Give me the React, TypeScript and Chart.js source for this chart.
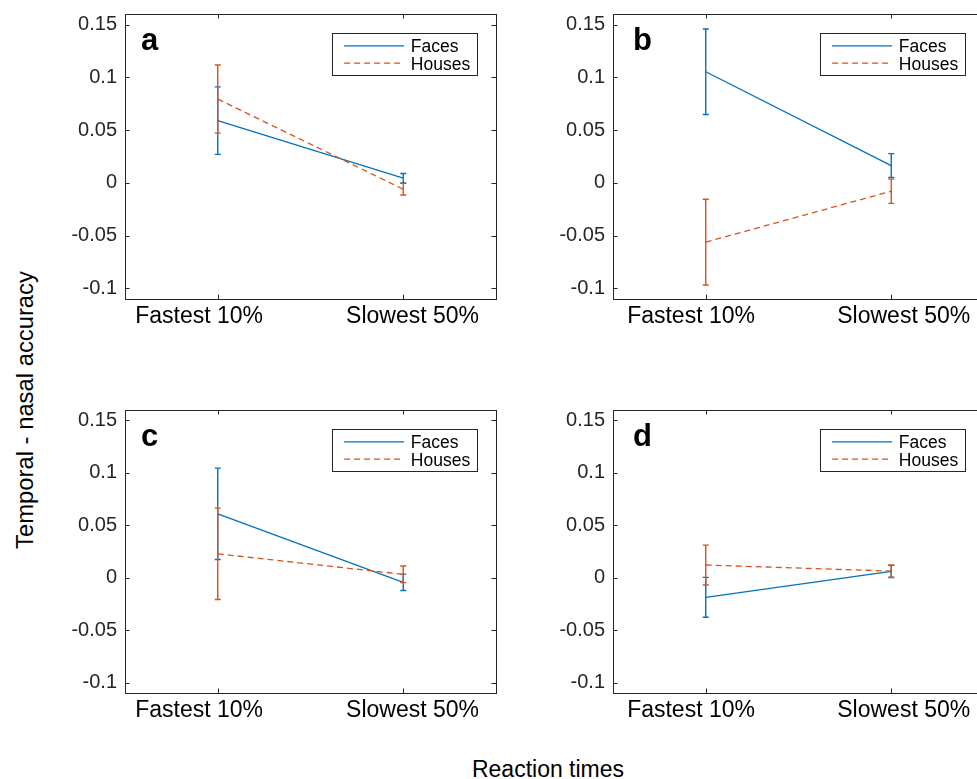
import React, { useEffect, useRef } from "react";
import { Chart, registerables } from "chart.js";

Chart.register(...registerables);

// ---------- data ----------
const categories = ["Fastest 10%", "Slowest 50%"];
const yTickValues = [-0.1, -0.05, 0, 0.05, 0.1, 0.15];
const yTickLabels = ["-0.1", "-0.05", "0", "0.05", "0.1", "0.15"];
const seriesNames = ["Faces", "Houses"];
const panelLetters = ["a", "b", "c", "d"];
const yAxisTitle = "Temporal - nasal accuracy";
const xAxisTitle = "Reaction times";

const facesMeanA = [0.059, 0.0044];
const facesErrA = [0.032, 0.0045];
const housesMeanA = [0.0794, -0.006];
const housesErrA = [0.0323, 0.0055];

const facesMeanB = [0.1053, 0.0164];
const facesErrB = [0.0405, 0.0113];
const housesMeanB = [-0.0561, -0.0079];
const housesErrB = [0.0406, 0.0115];

const facesMeanC = [0.0609, -0.0044];
const facesErrC = [0.0436, 0.0078];
const housesMeanC = [0.0228, 0.0032];
const housesErrC = [0.0436, 0.0079];

const facesMeanD = [-0.0187, 0.006];
const facesErrD = [0.019, 0.0058];
const housesMeanD = [0.0121, 0.0063];
const housesErrD = [0.019, 0.0058];

// ---------- styles / layout ----------
const FACES_COLOR = "#0072BD";
const HOUSES_COLOR = "#D95319";
const AXIS_COLOR = "#262626";
const FONT = "'Liberation Sans', Helvetica, Arial, sans-serif";

const Y_AXIS_W = 85;
const X_AXIS_H = 45;
const PAD_TOP = 14;
const PAD_RIGHT = 12;

const panelLayout = [
  { left: 125, top: 14, right: 496, bottom: 299, letterDx: 16, labelDx: [-18.6, 9.3] },
  { left: 613, top: 14, right: 984, bottom: 299, letterDx: 20, labelDx: [-14.7, 12.5] },
  { left: 125, top: 410, right: 496, bottom: 693, letterDx: 16, labelDx: [-18.6, 9.3] },
  { left: 613, top: 410, right: 984, bottom: 693, letterDx: 20, labelDx: [-14.7, 12.5] },
];

const panelData = [
  { fm: facesMeanA, fe: facesErrA, hm: housesMeanA, he: housesErrA },
  { fm: facesMeanB, fe: facesErrB, hm: housesMeanB, he: housesErrB },
  { fm: facesMeanC, fe: facesErrC, hm: housesMeanC, he: housesErrC },
  { fm: facesMeanD, fe: facesErrD, hm: housesMeanD, he: housesErrD },
];

// ---------- plugins ----------
const framePlugin = {
  id: "frame",
  beforeDatasetsDraw(chart: any) {
    const { ctx, chartArea } = chart;
    const { left, top, right, bottom } = chartArea;
    const xs = chart.scales.x;
    const ys = chart.scales.y;
    const tl = 4.5;
    ctx.save();
    ctx.strokeStyle = AXIS_COLOR;
    ctx.lineWidth = 1;
    ctx.strokeRect(Math.round(left) + 0.5, Math.round(top) + 0.5, Math.round(right - left), Math.round(bottom - top));
    ctx.beginPath();
    yTickValues.forEach((v) => {
      const y = Math.round(ys.getPixelForValue(v)) + 0.5;
      ctx.moveTo(left, y);
      ctx.lineTo(left + tl, y);
      ctx.moveTo(right, y);
      ctx.lineTo(right - tl, y);
    });
    categories.forEach((_, i) => {
      const x = Math.round(xs.getPixelForValue(i + 1)) + 0.5;
      ctx.moveTo(x, bottom);
      ctx.lineTo(x, bottom - tl);
      ctx.moveTo(x, top);
      ctx.lineTo(x, top + tl);
    });
    ctx.stroke();
    ctx.restore();
  },
};

const errorBarPlugin = {
  id: "errbars",
  afterDatasetDraw(chart: any, args: any) {
    const ds = chart.data.datasets[args.index] as any;
    if (!ds.errors) return;
    const ctx = chart.ctx;
    const xs = chart.scales.x;
    const ys = chart.scales.y;
    ctx.save();
    ctx.strokeStyle = ds.borderColor;
    ctx.lineWidth = 1.4;
    ctx.setLineDash([]);
    ctx.beginPath();
    ds.data.forEach((p: any, i: number) => {
      const e = ds.errors[i];
      const x = xs.getPixelForValue(p.x);
      const y1 = ys.getPixelForValue(p.y + e);
      const y2 = ys.getPixelForValue(p.y - e);
      ctx.moveTo(x, y1);
      ctx.lineTo(x, y2);
      ctx.moveTo(x - 3, y1);
      ctx.lineTo(x + 3, y1);
      ctx.moveTo(x - 3, y2);
      ctx.lineTo(x + 3, y2);
    });
    ctx.stroke();
    ctx.restore();
  },
};

const legendPlugin = {
  id: "boxLegend",
  afterDraw(chart: any) {
    const { ctx, chartArea } = chart;
    const opts = chart.options.plugins.boxLegend;
    const xs = chart.scales.x;
    const w = 145;
    const h = 42;
    const bx = Math.round(chartArea.right - 19 - w) + 0.5;
    const by = Math.round(chartArea.top + 19) + 0.5;
    ctx.save();
    ctx.fillStyle = "#ffffff";
    ctx.fillRect(bx, by, w, h);
    ctx.strokeStyle = AXIS_COLOR;
    ctx.lineWidth = 1;
    ctx.strokeRect(bx, by, w, h);
    const rows = [
      { color: FACES_COLOR, dash: [] as number[], dy: 12.4, ty: 18.4 },
      { color: HOUSES_COLOR, dash: [6, 4], dy: 29.7, ty: 36 },
    ];
    rows.forEach((r, i) => {
      ctx.strokeStyle = r.color;
      ctx.lineWidth = 1.3;
      ctx.setLineDash(r.dash);
      ctx.beginPath();
      ctx.moveTo(bx + 11.6, by + r.dy);
      ctx.lineTo(bx + 71.6, by + r.dy);
      ctx.stroke();
      ctx.setLineDash([]);
      ctx.fillStyle = "#000000";
      ctx.font = `17.5px ${FONT}`;
      ctx.textBaseline = "alphabetic";
      ctx.textAlign = "left";
      ctx.fillText(seriesNames[i], bx + 78.3, by + r.ty);
    });
    // panel letter
    ctx.fillStyle = "#000000";
    ctx.font = `bold 31px ${FONT}`;
    ctx.textBaseline = "alphabetic";
    ctx.textAlign = "left";
    ctx.fillText(opts.letter, chartArea.left + opts.letterDx, chartArea.top + 36);
    // x category labels
    ctx.font = `23px ${FONT}`;
    ctx.textAlign = "center";
    ctx.fillStyle = "#000000";
    categories.forEach((c, i) => {
      const x = xs.getPixelForValue(i + 1) + opts.labelDx[i];
      ctx.fillText(c, x, chartArea.bottom + 24.3);
    });
    ctx.restore();
  },
};

// ---------- components ----------
function Panel({ idx }: { idx: number }) {
  const ref = useRef<HTMLCanvasElement>(null);
  const lay = panelLayout[idx];
  const cw = lay.right - lay.left + Y_AXIS_W + PAD_RIGHT;
  const ch = lay.bottom - lay.top + PAD_TOP + X_AXIS_H;
  const cl = lay.left - Y_AXIS_W;
  const ct = lay.top - PAD_TOP;

  useEffect(() => {
    const d = panelData[idx];
    const chart = new Chart(ref.current as HTMLCanvasElement, {
      type: "line",
      data: {
        datasets: [
          {
            label: seriesNames[0],
            data: d.fm.map((v, i) => ({ x: i + 1, y: v })),
            errors: d.fe,
            borderColor: FACES_COLOR,
            backgroundColor: FACES_COLOR,
            borderWidth: 1.3,
            pointRadius: 0,
            fill: false,
            tension: 0,
            order: 1,
          } as any,
          {
            label: seriesNames[1],
            data: d.hm.map((v, i) => ({ x: i + 1, y: v })),
            errors: d.he,
            borderColor: HOUSES_COLOR,
            backgroundColor: HOUSES_COLOR,
            borderWidth: 1.3,
            borderDash: [6, 4],
            pointRadius: 0,
            fill: false,
            tension: 0,
            order: 0,
          } as any,
        ],
      },
      options: {
        animation: false,
        responsive: false,
        maintainAspectRatio: false,
        devicePixelRatio: 1,
        layout: { padding: { top: PAD_TOP, right: PAD_RIGHT, left: 0, bottom: 0 } },
        plugins: {
          legend: { display: false },
          tooltip: { enabled: false },
          boxLegend: { letter: panelLetters[idx], letterDx: lay.letterDx, labelDx: lay.labelDx },
        } as any,
        scales: {
          x: {
            type: "linear",
            min: 0.5,
            max: 2.5,
            grid: { display: false, drawTicks: false },
            border: { display: false },
            afterBuildTicks: (s: any) => {
              s.ticks = categories.map((_, i) => ({ value: i + 1 }));
            },
            afterFit: (s: any) => {
              s.height = X_AXIS_H;
              s.paddingLeft = 0;
              s.paddingRight = 0;
              s.paddingTop = 0;
              s.paddingBottom = 0;
            },
            ticks: {
              display: false,
              autoSkip: false,
              maxRotation: 0,
              minRotation: 0,
            },
          },
          y: {
            type: "linear",
            min: -0.11,
            max: 0.16,
            grid: { display: false, drawTicks: false },
            border: { display: false },
            afterBuildTicks: (s: any) => {
              s.ticks = yTickValues.map((v) => ({ value: v }));
            },
            afterFit: (s: any) => {
              s.width = Y_AXIS_W;
              s.paddingLeft = 0;
              s.paddingRight = 0;
              s.paddingTop = 0;
              s.paddingBottom = 0;
            },
            ticks: {
              padding: 8,
              color: AXIS_COLOR,
              font: { family: FONT, size: 20 },
              callback: (v: any) => {
                const k = yTickValues.findIndex((t) => Math.abs(t - Number(v)) < 1e-9);
                return k >= 0 ? yTickLabels[k] : "";
              },
            },
          },
        },
      } as any,
      plugins: [framePlugin, errorBarPlugin, legendPlugin],
    });
    return () => chart.destroy();
  }, [idx]);

  return (
    <canvas
      ref={ref}
      width={cw}
      height={ch}
      style={{ position: "absolute", left: cl, top: ct, width: cw, height: ch }}
    />
  );
}

export default function App() {
  return (
    <div
      style={{
        position: "absolute",
        left: 0,
        top: 0,
        width: 977,
        height: 779,
        overflow: "hidden",
        background: "#ffffff",
        fontFamily: FONT,
      }}
    >
      {panelLayout.map((_, i) => (
        <Panel key={i} idx={i} />
      ))}
      <div
        style={{
          position: "absolute",
          left: 25 - 200,
          top: 410 - 15,
          width: 400,
          height: 30,
          lineHeight: "30px",
          textAlign: "center",
          fontSize: 23.8,
          color: "#000000",
          transform: "rotate(-90deg)",
          whiteSpace: "nowrap",
        }}
      >
        {yAxisTitle}
      </div>
      <div
        style={{
          position: "absolute",
          left: 548 - 200,
          top: 769 - 15,
          width: 400,
          height: 30,
          lineHeight: "30px",
          textAlign: "center",
          fontSize: 23,
          color: "#000000",
          whiteSpace: "nowrap",
        }}
      >
        {xAxisTitle}
      </div>
    </div>
  );
}
